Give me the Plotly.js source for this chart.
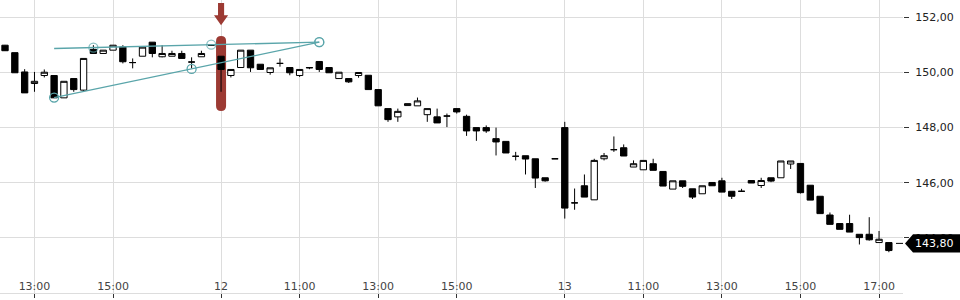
<!DOCTYPE html>
<html>
<head>
<meta charset="utf-8">
<script src="https://cdn.plot.ly/plotly-3.0.1.min.js"></script>
<style>html,body{margin:0;padding:0;background:#fff;}#chart{width:960px;height:300px;}</style>
</head>
<body>
<div id="chart"></div>
<script>
// ---- categories (15-minute bars, three sessions) ----
const day11Times = ["12:15","12:30","12:45","13:00","13:15","13:30","13:45","14:00","14:15","14:30","14:45","15:00","15:15","15:30","15:45","16:00","16:15","16:30","16:45","17:00","17:15","17:30"];
const day12Times = ["09:00","09:15","09:30","09:45","10:00","10:15","10:30","10:45","11:00","11:15","11:30","11:45","12:00","12:15","12:30","12:45","13:00","13:15","13:30","13:45","14:00","14:15","14:30","14:45","15:00","15:15","15:30","15:45","16:00","16:15","16:30","16:45","17:00","17:15","17:30"];
const day13Times = ["09:00","09:15","09:30","09:45","10:00","10:15","10:30","10:45","11:00","11:15","11:30","11:45","12:00","12:15","12:30","12:45","13:00","13:15","13:30","13:45","14:00","14:15","14:30","14:45","15:00","15:15","15:30","15:45","16:00","16:15","16:30","16:45","17:00","17:15"];
const categories = [].concat(day11Times.map(t => "11 " + t), day12Times.map(t => "12 " + t), day13Times.map(t => "13 " + t));

// ---- OHLC values ----
const openVals  = [150.99,150.72,150.02,149.60,149.89,149.89,149.08,149.78,149.36,150.84,150.69,150.81,150.92,150.36,150.59,151.10,150.57,150.59,150.69,150.38,150.57,150.99,
                   150.59,149.89,150.18,150.81,150.30,150.00,150.33,150.18,149.89,150.18,150.40,150.18,149.78,149.78,149.89,149.90,149.38,148.69,148.39,148.80,148.79,148.47,148.39,148.42,148.69,148.41,148.00,148.00,147.60,147.50,146.96,146.98,146.87,146.18,146.87,
                   148.00,145.27,145.89,145.38,146.87,147.20,147.27,146.57,146.47,146.69,146.41,145.77,146.07,145.78,145.60,146.01,146.07,145.69,145.69,146.08,145.90,146.18,146.18,146.68,146.70,145.91,145.51,144.83,144.52,144.52,144.13,144.13,143.83,143.83];
const highVals  = [151.00,150.72,150.12,150.02,150.11,149.89,149.68,149.78,150.51,150.99,150.81,150.99,150.99,150.51,150.92,151.10,150.99,150.79,150.79,150.55,150.79,151.00,
                   150.59,150.11,150.81,150.81,150.30,150.17,150.51,150.18,150.11,150.19,150.41,150.18,150.01,149.78,150.00,149.90,149.38,148.69,148.69,148.87,149.09,148.69,148.69,148.51,148.69,148.47,148.00,148.08,148.00,147.50,147.12,146.98,146.87,146.18,146.87,
                   148.21,145.79,146.30,146.87,147.08,147.68,147.39,146.81,146.81,146.87,146.41,146.07,146.07,145.78,145.89,146.01,146.18,145.69,145.78,146.08,146.18,146.18,146.79,146.79,146.70,145.91,145.51,144.92,144.52,144.84,144.13,144.75,144.25,143.83];
const lowVals   = [150.78,149.99,149.26,149.30,149.82,149.08,149.08,149.30,149.33,150.69,150.69,150.81,150.33,150.15,150.59,150.55,150.55,150.59,150.51,150.15,150.57,150.98,
                   149.30,149.82,150.18,150.02,150.11,149.92,150.21,149.90,149.84,150.12,150.02,149.99,149.78,149.62,149.81,149.38,148.79,148.21,148.21,148.80,148.79,148.21,148.17,148.02,148.51,147.70,147.52,147.81,146.99,147.08,146.81,146.30,145.81,146.04,146.87,
                   144.70,145.02,145.48,145.38,146.81,147.12,146.97,146.57,146.47,146.45,145.88,145.77,145.81,145.41,145.60,145.89,145.66,145.41,145.67,145.99,145.81,146.02,146.18,146.50,145.61,145.37,144.88,144.49,144.31,144.21,143.76,143.90,143.83,143.48];
const closeVals = [150.79,149.99,149.26,149.68,150.01,149.08,149.68,149.38,150.51,150.69,150.81,150.99,150.39,150.36,150.92,150.69,150.69,150.69,150.51,150.38,150.69,150.99,
                   150.11,150.11,150.81,150.17,150.11,150.17,150.33,149.99,150.11,150.17,150.11,149.99,150.01,149.66,150.00,149.38,148.79,148.29,148.59,148.87,148.97,148.69,148.17,148.42,148.57,147.88,147.88,147.88,147.48,147.08,146.96,146.86,146.17,146.07,146.87,
                   145.08,145.27,145.48,146.81,146.98,147.20,146.97,146.69,146.81,146.45,145.88,146.07,145.87,145.48,145.89,145.89,145.66,145.51,145.69,145.99,146.08,146.06,146.79,146.79,145.64,145.37,144.88,144.49,144.31,144.21,144.01,143.93,143.95,143.54];

// ---- trend-line drawings ----
const lowerLineX = ["11 13:30","11 17:00","12 11:30"];
const lowerLineY = [149.09, 150.13, 151.10];
const upperLineX = ["11 13:30","11 14:30","11 17:30","12 11:30"];
const upperLineY = [150.87, 150.90, 151.01, 151.10];
const upperMarkerSizes = [0, 9, 9, 9];

// ---- highlighted bar & last price ----
const highlightCategory = "12 09:00";
const highlightTop = 151.32, highlightBottom = 148.60;
const lastPrice = 143.80;
const lastPriceText = "143,80";

// ---- axis ticks ----
const xTickVals = ["11 13:00","11 15:00","12 09:00","12 11:00","12 13:00","12 15:00","13 09:00","13 11:00","13 13:00","13 15:00","13 17:00"];
const xTickText = ["13:00","15:00","12","11:00","13:00","15:00","13","11:00","13:00","15:00","17:00"];
const yTickVals = [142,144,146,148,150,152];
const yTickText = ["142.00","144,00","146,00","148,00","150,00","152,00"];

const yMin = 142, yMax = 152.63;
const teal = '#5aa5aa';
const red = '#9c3a33';

const traces = [
  {
    type: 'candlestick', x: categories, open: openVals, high: highVals, low: lowVals, close: closeVals,
    increasing: {line: {color: '#000', width: 1}, fillcolor: '#ffffff'},
    decreasing: {line: {color: '#000', width: 1}, fillcolor: '#000000'},
    whiskerwidth: 0, hoverinfo: 'skip'
  },
  {
    type: 'scatter', mode: 'lines+markers', x: lowerLineX, y: lowerLineY,
    line: {color: teal, width: 1.3},
    marker: {symbol: 'circle-open', size: 9, color: teal, line: {width: 1.3, color: teal}},
    hoverinfo: 'skip'
  },
  {
    type: 'scatter', mode: 'lines+markers', x: upperLineX, y: upperLineY,
    line: {color: teal, width: 1.3},
    marker: {symbol: 'circle-open', size: upperMarkerSizes, color: teal, line: {width: 1.3, color: teal}},
    hoverinfo: 'skip'
  }
];

const hi = categories.indexOf(highlightCategory);
const hw = 0.51, ry = 0.18;
const barPath = `M ${hi-hw},${highlightTop-ry} Q ${hi-hw},${highlightTop} ${hi},${highlightTop} Q ${hi+hw},${highlightTop} ${hi+hw},${highlightTop-ry} ` +
                `L ${hi+hw},${highlightBottom+ry} Q ${hi+hw},${highlightBottom} ${hi},${highlightBottom} Q ${hi-hw},${highlightBottom} ${hi-hw},${highlightBottom+ry} Z`;
const arrowPath = `M ${hi-0.31},152.52 L ${hi+0.31},152.52 L ${hi+0.31},152.08 L ${hi+0.72},152.08 L ${hi},151.71 L ${hi-0.72},152.08 L ${hi-0.31},152.08 Z`;

const py = v => (v - yMin) / (yMax - yMin);
const plotW = 903;
const px = p => p / plotW;
const lblTop = py(lastPrice + 0.33), lblBot = py(lastPrice - 0.33), lblMid = py(lastPrice);
const labelPath = `M ${px(905)},${lblMid} L ${px(913)},${lblTop} L ${px(960)},${lblTop} L ${px(960)},${lblBot} L ${px(913)},${lblBot} Z`;

const layout = {
  width: 960, height: 300,
  margin: {l: 0, r: 960 - plotW, t: 0, b: 7, pad: 0},
  paper_bgcolor: '#fff', plot_bgcolor: '#fff',
  showlegend: false,
  boxgap: 0.08,
  font: {family: 'DejaVu Sans', size: 11, color: '#222'},
  xaxis: {
    type: 'category', categoryorder: 'array', categoryarray: categories,
    range: [-0.51, 91.44], fixedrange: true,
    tickvals: xTickVals, ticktext: xTickText,
    ticks: 'outside', ticklen: 4, tickcolor: '#333', tickwidth: 1,
    ticklabelposition: 'inside',
    showgrid: true, gridcolor: '#dddddd', gridwidth: 1,
    showline: true, linecolor: '#dddddd', linewidth: 1,
    zeroline: false,
    rangeslider: {visible: false}
  },
  yaxis: {
    side: 'right', range: [yMin, yMax], fixedrange: true,
    tickvals: yTickVals, ticktext: yTickText,
    ticks: 'outside', ticklen: 5, tickcolor: '#333', tickwidth: 1,
    ticklabelstandoff: 4,
    showgrid: true, gridcolor: '#dddddd', gridwidth: 1,
    showline: false, zeroline: false
  },
  shapes: [
    {type: 'path', xref: 'x', yref: 'y', path: barPath, fillcolor: red, line: {width: 0}, layer: 'between'},
    {type: 'path', xref: 'x', yref: 'y', path: arrowPath, fillcolor: red, line: {width: 0}, layer: 'between'},
    {type: 'line', xref: 'paper', yref: 'paper', x0: px(896), x1: px(903), y0: lblMid, y1: lblMid, line: {color: '#000', width: 1}, layer: 'above'},
    {type: 'path', xref: 'paper', yref: 'paper', path: labelPath, fillcolor: '#000', line: {width: 0}, layer: 'above'}
  ],
  annotations: [
    {xref: 'paper', yref: 'paper', x: px(935), y: lblMid, text: lastPriceText, showarrow: false, xanchor: 'center', yanchor: 'middle',
     font: {family: 'DejaVu Sans', size: 11, color: '#fff'}}
  ]
};

Plotly.newPlot('chart', traces, layout, {displayModeBar: false, staticPlot: true});
</script>
</body>
</html>
